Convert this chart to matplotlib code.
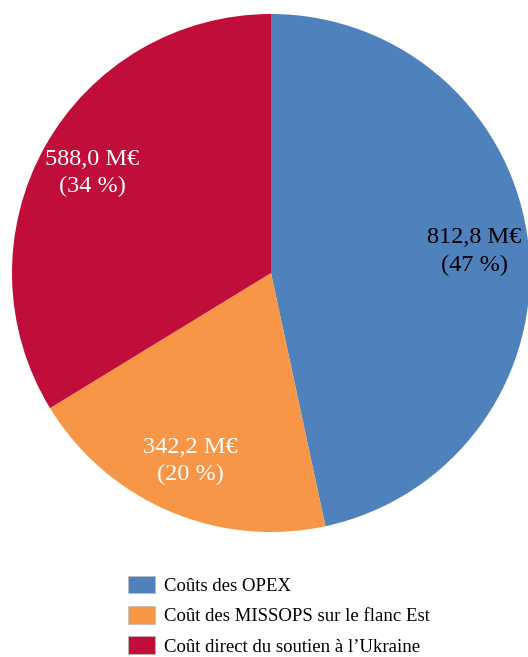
import matplotlib
matplotlib.use("Agg")
import matplotlib.pyplot as plt
from matplotlib.patches import Patch

categories = ["Coûts des OPEX", "Coût des MISSOPS sur le flanc Est", "Coût direct du soutien à l’Ukraine"]
values = [812.8, 342.2, 588.0]
value_labels = ["812,8 M€", "342,2 M€", "588,0 M€"]
pct_labels = ["47 %", "20 %", "34 %"]
colors = ["#4F81BD", "#F79646", "#C00D3A"]
text_colors = ["black", "white", "white"]

plt.rcParams['font.family'] = ['Liberation Serif', 'DejaVu Serif']

fig = plt.figure(figsize=(5.28, 6.57), dpi=100)
ax = fig.add_axes([12/528, 1 - 532/657, 518/528, 518/657])

labels_iter = iter(range(len(values)))
def fmt(p):
    i = next(labels_iter)
    return f"{value_labels[i]}\n({pct_labels[i]})"

wedges, texts, autotexts = ax.pie(values, colors=colors, startangle=90, counterclock=False,
                                  autopct=fmt, pctdistance=0.79, radius=1,
                                  wedgeprops=dict(linewidth=0))
for t, c in zip(autotexts, text_colors):
    t.set_color(c)
    t.set_fontsize(17.5)
    t.set_linespacing(1.4)
ax.set_xlim(-1, 1)
ax.set_ylim(-1, 1)
ax.set_aspect('equal')
ax.axis('off')

handles = [Patch(facecolor=c, edgecolor='#BBBBBB', linewidth=0.5) for c in colors]
fig.legend(handles, categories, loc='upper left', bbox_to_anchor=(120/528, 1 - 568/657),
           frameon=False, fontsize=13.5, handlelength=1.44, handleheight=1.07,
           handletextpad=0.48, labelspacing=0.6, borderaxespad=0)

fig.savefig("out.png", dpi=100)
